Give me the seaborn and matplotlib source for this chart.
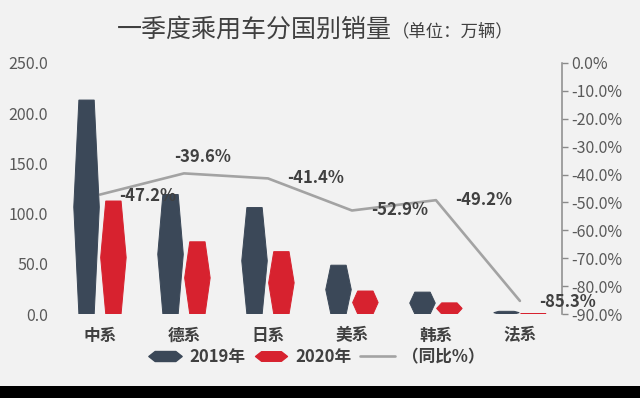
import numpy as np
import pandas as pd
import matplotlib.pyplot as plt
import seaborn as sns
from matplotlib.patches import Polygon, Rectangle
from matplotlib.lines import Line2D
from matplotlib.path import Path
from matplotlib.ticker import FuncFormatter

# data
categories = ['中系', '德系', '日系', '美系', '韩系', '法系']
sales_2019 = [213.0, 119.0, 106.0, 48.6, 21.8, 2.7]
sales_2020 = [112.5, 71.9, 62.1, 22.9, 11.1, 0.4]
yoy = [-47.2, -39.6, -41.4, -52.9, -49.2, -85.3]
years = ['2019年', '2020年']
line_name = '（同比%）'

dark = '#3b4858'
red = '#d7222f'
grey = '#a3a3a3'
txt = '#404040'

sns.set_theme(style='white')
plt.rcParams['font.family'] = ['Noto Sans CJK SC', 'DejaVu Sans']

df = pd.DataFrame({
    '系别': categories * 2,
    '销量': sales_2019 + sales_2020,
    '年份': [years[0]] * len(categories) + [years[1]] * len(categories),
})

fig, ax = plt.subplots(figsize=(6.4, 3.98), dpi=100)
fig.set_facecolor('#f2f2f2')
fig.subplots_adjust(left=0.0906, right=0.878, bottom=0.211, top=0.842)

sns.barplot(data=df, x='系别', y='销量', hue='年份', palette=[dark, red],
            width=0.64, gap=0.05, saturation=1, legend=False, ax=ax)

# turn the rectangles into hexagons
for p in list(ax.patches):
    x0, w, h = p.get_x(), p.get_width(), p.get_height()
    fc = p.get_facecolor()
    p.remove()
    hexa = Polygon([(x0 + 0.2 * w, 0), (x0 + 0.8 * w, 0), (x0 + w, h / 2),
                    (x0 + 0.8 * w, h), (x0 + 0.2 * w, h), (x0, h / 2)],
                   closed=True, facecolor=fc, edgecolor=fc, linewidth=0.7)
    ax.add_patch(hexa)

ax.set_xlim(-0.5, len(categories) - 0.5)
ax.set_ylim(0, 250)
ax.set_yticks(range(0, 251, 50))
ax.yaxis.set_major_formatter(FuncFormatter(lambda v, _: f'{v:.1f}'))
ax.set_xlabel('')
ax.set_ylabel('')
ax.tick_params(axis='y', length=0, pad=7, labelsize=11.5, labelcolor='#595959')
ax.tick_params(axis='x', length=0, pad=9, labelsize=12, labelcolor=txt)
for lab in ax.get_xticklabels():
    lab.set_fontweight('bold')
for s in ax.spines.values():
    s.set_visible(False)

ax2 = ax.twinx()
sns.lineplot(x=list(range(len(categories))), y=yoy, color=grey, linewidth=1.9,
             ax=ax2, legend=False)
ax2.set_ylim(-90, 0)
ax2.set_yticks(range(-90, 1, 10))
ax2.yaxis.set_major_formatter(FuncFormatter(lambda v, _: f'{v:.1f}%'))
ax2.set_ylabel('')
for k, s in ax2.spines.items():
    s.set_visible(k == 'right')
ax2.spines['right'].set_color('#8a8a8a')
ax2.spines['right'].set_linewidth(1.1)
ax2.tick_params(axis='y', length=4, width=1, color='#8a8a8a', pad=3,
                labelsize=11.5, labelcolor='#595959')

# bars above the line
ax.set_zorder(2)
ax2.set_zorder(1)
ax.patch.set_visible(False)
ax2.patch.set_visible(False)

offsets = [(14, -1), (-7, 11.5), (14, 0), (14, 0), (14, 0), (14, -1)]
for i, v in enumerate(yoy):
    ax.annotate(f'{v:.1f}%', xy=(i, v), xycoords=ax2.transData,
                xytext=offsets[i], textcoords='offset points',
                ha='left', va='center', fontsize=12, fontweight='bold', color=txt)

# title
fig.text(0.6125, 0.925, '一季度乘用车分国别销量', ha='right', va='center',
         fontsize=18, color=txt)
fig.text(0.6125, 0.922, '（单位：万辆）', ha='left', va='center',
         fontsize=12.5, color=txt)

# legend
hex_path = Path([(-1, 0), (-0.62, 0.3), (0.62, 0.3), (1, 0), (0.62, -0.3),
                 (-0.62, -0.3), (-1, 0)], closed=True)
handles = [
    Line2D([], [], linestyle='none', marker=hex_path, markersize=24,
           markerfacecolor=dark, markeredgecolor=dark),
    Line2D([], [], linestyle='none', marker=hex_path, markersize=23,
           markerfacecolor=red, markeredgecolor=red),
    Line2D([], [], color=grey, linewidth=1.9),
]
fig.legend(handles, years + [line_name], loc='center',
           bbox_to_anchor=(316 / 640, 1 - 357 / 398), ncol=3, frameon=False,
           prop={'weight': 'bold', 'size': 12}, labelcolor=txt,
           handlelength=2.1, handletextpad=0.4, columnspacing=0.5)

# black strip at the bottom
fig.add_artist(Rectangle((0, 0), 1, 12 / 398, transform=fig.transFigure,
                         facecolor='black', edgecolor='none'))

fig.savefig('out.png', dpi=100, facecolor=fig.get_facecolor())
